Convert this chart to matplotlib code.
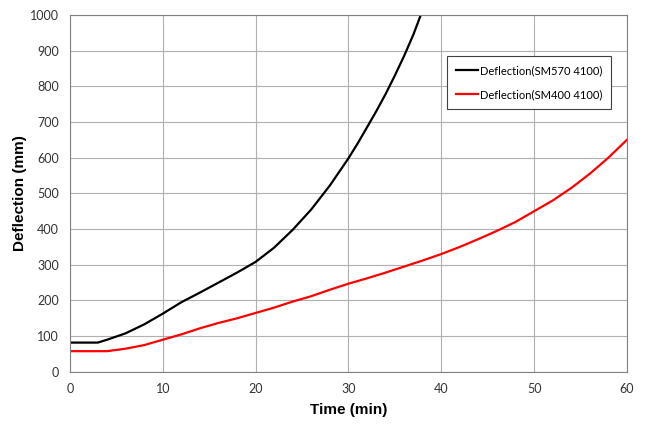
import matplotlib.pyplot as plt

plt.rcParams['font.family'] = ['Lato', 'DejaVu Sans']

t_570 = [0, 3, 4, 6, 8, 10, 12, 14, 16, 18, 20, 22, 24, 26, 28, 30, 31, 32, 33, 34, 35, 36, 37, 37.8]
d_570 = [82, 82, 90, 108, 133, 163, 195, 222, 250, 278, 308, 348, 398, 455, 522, 598, 640, 685, 730, 778,
         830, 885, 945, 1000]

t_400 = [0, 4, 6, 8, 10, 12, 14, 16, 18, 20, 22, 24, 26, 28, 30, 32, 34, 36, 38, 40,
         42, 44, 46, 48, 50, 52, 54, 56, 58, 60]
d_400 = [58, 58, 65, 75, 90, 105, 122, 137, 150, 165, 180, 197, 212, 230, 247, 262, 278, 295, 312, 330,
         350, 372, 395, 420, 450, 480, 515, 555, 600, 650]

fig = plt.figure(figsize=(6.47, 4.25), dpi=100)
ax = fig.add_axes([0.108, 0.125, 0.861, 0.84])

ax.plot(t_570, d_570, color='black', lw=1.6, label='Deflection(SM570 4100)')
ax.plot(t_400, d_400, color='red', lw=1.6, label='Deflection(SM400 4100)')

ax.set_xlim(0, 60)
ax.set_ylim(0, 1000)
ax.set_xticks(range(0, 61, 10))
ax.set_yticks(range(0, 1001, 100))
ax.grid(color='#b0b0b0', lw=0.8)
ax.tick_params(length=0, labelsize=9, colors='#333333', pad=8)
for s in ax.spines.values():
    s.set_color('#808080')

ax.set_xlabel('Time (min)', fontsize=11, fontweight='bold', family='Liberation Sans', labelpad=6)
ax.set_ylabel('Deflection (mm)', fontsize=11, fontweight='bold', family='Liberation Sans', labelpad=2)

leg = ax.legend(loc='upper right', bbox_to_anchor=(0.971, 0.885), fontsize=8, fancybox=False,
                framealpha=1, edgecolor='#404040', handlelength=2.0, handletextpad=0.1,
                labelspacing=1.2, borderpad=0.8, borderaxespad=0)
leg.get_frame().set_linewidth(0.8)

fig.savefig('out.png', dpi=100)
